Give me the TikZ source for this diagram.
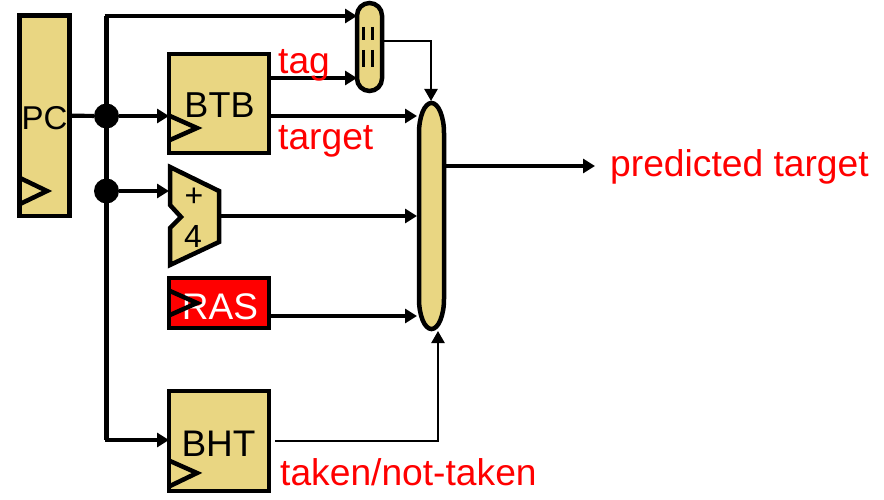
\documentclass[tikz,border=0pt]{standalone}
\usepackage{fontspec}
\setmainfont{Liberation Sans}
\usetikzlibrary{arrows.meta,calc}
\definecolor{gold}{HTML}{E9D682}
\tikzset{
  block/.style={draw=black,line width=4.5pt,fill=gold,minimum width=100pt,inner sep=0pt,outer sep=0pt,rectangle},
  clock/.style={draw=black,line width=4.5pt,line join=miter},
  thick arrow/.style={draw=black,line width=4.2pt,-{Triangle[length=12pt,width=14pt]}},
  thin arrow/.style={draw=black,line width=2.4pt,-{Triangle[length=12pt,width=13pt]}},
  bus/.style={draw=black,line width=4.2pt,line join=round},
  dot/.style={circle,fill=black,minimum size=25pt,inner sep=0pt,outer sep=0pt},
  redlabel/.style={text=red,font=\fontsize{37.2}{37.2}\selectfont,anchor=base west,inner sep=0pt},
  blocklabel/.style={text=black,font=\fontsize{37}{37}\selectfont,anchor=base,inner sep=0pt},
}
\begin{document}
\begin{tikzpicture}[x=1pt,y=-1pt]
\useasboundingbox (0,0) rectangle (884,500);
% blocks
\node[block,minimum width=50pt,minimum height=200.5pt] (pc) at (44.5,115.75) {};
\node[block,minimum height=99pt] (btb) at (219,103.5) {};
\node[block,minimum height=50pt,fill=red] (ras) at (219,303) {};
\node[block,minimum height=100pt] (bht) at (219,441) {};
\node[block,minimum width=25pt,minimum height=88pt,rounded corners=12.5pt] (cmp) at (369.5,47) {};
% adder
\draw[draw=black,line width=4.5pt,fill=gold,line join=miter] (170,167) -- (219,191) -- (219,242) -- (170,265) -- (170,228) -- (181,217) -- (170,205) -- cycle;
\coordinate (add) at (219,216);
\coordinate (addin) at (169,191);
% mux
\draw[draw=black,line width=4.5pt,fill=gold] (419,133) arc[start angle=180,end angle=0,x radius=12.5pt,y radius=30pt] -- (444,299) arc[start angle=0,end angle=-180,x radius=12.5pt,y radius=30pt] -- cycle;
\node[minimum width=29pt,minimum height=230pt,inner sep=0pt,outer sep=0pt] (mux) at (431.5,216) {};
% junctions
\node[dot] (j1) at (106.5,116) {};
\node[dot] (j2) at (106.5,191) {};
\coordinate (top) at (106.5,16);
\coordinate (bot) at (106.5,440);
% bus
\draw[bus] (top) -- (bot);
\draw[thick arrow] ([xshift=-2pt]top) -- (top -| cmp.west);
\draw[thick arrow] (bot -| j1.center) ++(-2,0) -- (bot -| bht.west);
\draw[bus] (pc.east) -- (j1);
\draw[thick arrow] (j1) -- (j1 -| btb.west);
\draw[thick arrow] (j2) -- (addin);
% outputs
\coordinate (tagy) at (300,78);
\coordinate (tgty) at (300,116);
\coordinate (rasy) at (300,316);
\coordinate (outy) at (500,166);
\coordinate (end) at (595,166);
\draw[thick arrow] (tagy -| btb.east) -- (tagy -| cmp.west);
\draw[thick arrow] (tgty -| btb.east) -- (tgty -| mux.west);
\draw[thick arrow] (add) -- (add -| mux.west);
\draw[thick arrow] (rasy -| ras.east) -- (rasy -| mux.west);
\draw[thick arrow] (outy -| mux.east) -- (end);
% control lines
\coordinate (c1) at (384,41);
\coordinate (c2) at (431,41);
\coordinate (c3) at (431,101);
\draw[thin arrow] (c1) -- (c2) -- (c3);
\coordinate (b1) at (275,441);
\coordinate (b2) at (438,441);
\coordinate (b3) at (438,331);
\draw[thin arrow] (b1) -- (b2) -- (b3);
% comparator bars
\draw[draw=black,line width=3pt] (363,27) -- (363,40) (372,27) -- (372,40) (363,50) -- (363,67) (372,50) -- (372,67);
% labels
\node[blocklabel,font=\fontsize{33}{33}\selectfont] (pct) at (44.5,130) {PC};
\node[blocklabel,font=\fontsize{36}{36}\selectfont] (btbt) at (219.5,118) {BTB};
\node[blocklabel,text=white] (rast) at (220,319) {RAS};
\node[blocklabel] (bhtt) at (218.5,456) {BHT};
\node[blocklabel,font=\fontsize{32}{32}\selectfont] (plus) at (194,206) {+};
\node[blocklabel,font=\fontsize{32}{32}\selectfont] (four) at (193,247) {4};
\node[redlabel] (tag) at (278,74) {tag};
\node[redlabel] (target) at (278,150) {target};
\node[redlabel] (pred) at (610,176) {predicted target};
\node[redlabel] (taken) at (280,485) {taken/not-taken};
% clock triangles
\draw[clock] (20,178) -- (47,191) -- (20,204);
\draw[clock] (170,116) -- (197,128) -- (170,140);
\draw[clock] (170,291) -- (197,303) -- (170,315);
\draw[clock] (170,461) -- (197,473) -- (170,486);
\end{tikzpicture}
\end{document}
